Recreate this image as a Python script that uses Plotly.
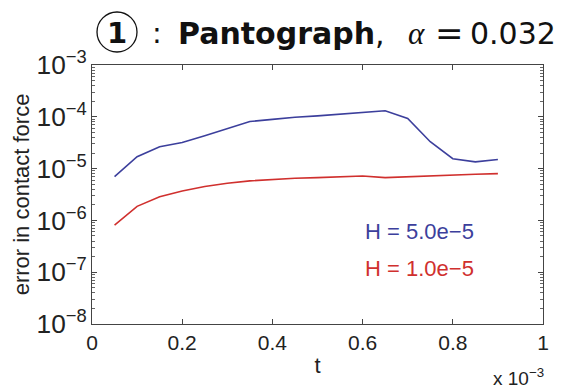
import plotly.graph_objects as go

t_vals = [0.05, 0.10, 0.15, 0.20, 0.25, 0.30, 0.35, 0.40, 0.45, 0.50, 0.55,
          0.60, 0.65, 0.70, 0.75, 0.80, 0.85, 0.90]
err_h5 = [7.0e-6, 1.7e-5, 2.65e-5, 3.2e-5, 4.3e-5, 6.0e-5, 8.1e-5, 8.9e-5, 9.8e-5,
          1.04e-4, 1.13e-4, 1.22e-4, 1.31e-4, 9.3e-5, 3.3e-5, 1.55e-5, 1.35e-5, 1.5e-5]
err_h1 = [8.1e-7, 1.87e-6, 2.85e-6, 3.7e-6, 4.5e-6, 5.2e-6, 5.8e-6, 6.2e-6, 6.5e-6,
          6.7e-6, 6.9e-6, 7.2e-6, 6.7e-6, 7.0e-6, 7.3e-6, 7.6e-6, 7.8e-6, 8.0e-6]
labels = ["H = 5.0e\u22125", "H = 1.0e\u22125"]
colors = ["#3c3f9c", "#d0302e"]
x_ticks = [0, 0.2, 0.4, 0.6, 0.8, 1]
x_ticklabels = ["0", "0.2", "0.4", "0.6", "0.8", "1"]

W, H = 567, 388
L, R, T, B = 92, 24, 65, 64
pw, ph = W - L - R, H - T - B

def px(x):
    return (x - L) / pw

def py(y):
    return (H - B - y) / ph

fig = go.Figure()
for ys, c in zip([err_h5, err_h1], colors):
    fig.add_trace(go.Scatter(x=t_vals, y=ys, mode="lines",
                             line=dict(color=c, width=1.6), showlegend=False))

font_main = "Liberation Sans, Arial, sans-serif"
fig.update_layout(
    width=W, height=H,
    margin=dict(l=L, r=R, t=T, b=B),
    paper_bgcolor="white", plot_bgcolor="white",
    font=dict(family=font_main, size=21, color="#222"),
    xaxis=dict(range=[0, 1], tickvals=x_ticks, ticktext=x_ticklabels,
               ticks="inside", ticklen=5, tickcolor="#444",
               showline=True, linecolor="#444", linewidth=1.2, mirror="ticks",
               showgrid=False, zeroline=False,
               title=dict(text="t", font=dict(size=22), standoff=4)),
    yaxis=dict(type="log", range=[-8, -3], dtick=1, exponentformat="power",
               showexponent="all",
               ticks="inside", ticklen=5, tickcolor="#444",
               minor=dict(ticks="inside", ticklen=3, tickcolor="#666", showgrid=False),
               showline=True, linecolor="#444", linewidth=1.2, mirror="ticks",
               showgrid=False, zeroline=False,
               title=dict(text="error in contact force", font=dict(size=22), standoff=0)),
)

# x 10^-3 multiplier
fig.add_annotation(x=px(546), y=py(377), xref="paper", yref="paper",
                   text="x 10<sup>\u22123</sup>", showarrow=False,
                   xanchor="right", yanchor="middle", font=dict(size=19))

# in-plot labels
for lbl, c, yy in zip(labels, colors, [231, 268]):
    fig.add_annotation(x=px(419), y=py(yy), xref="paper", yref="paper",
                       text=lbl, showarrow=False, xanchor="center", yanchor="middle",
                       font=dict(size=22, color=c))

# title pieces
tcol = "#111"
cx, cy, r = 117, 32, 20
fig.add_shape(type="circle", xref="paper", yref="paper",
              x0=px(cx - r), x1=px(cx + r), y0=py(cy + r), y1=py(cy - r),
              line=dict(color=tcol, width=1.3))
fig.add_annotation(x=px(cx), y=py(cy + 1), xref="paper", yref="paper",
                   text="<b>1</b>", showarrow=False, xanchor="center", yanchor="middle",
                   font=dict(size=29, color=tcol, family="DejaVu Sans"))
fig.add_annotation(x=px(157), y=py(33), xref="paper", yref="paper",
                   text=":", showarrow=False, xanchor="center", yanchor="middle",
                   font=dict(size=29, color=tcol, family="DejaVu Sans"))
fig.add_annotation(x=px(176), y=py(33), xref="paper", yref="paper",
                   text="<b>Pantograph</b>,", showarrow=False, xanchor="left", yanchor="middle",
                   font=dict(size=30, color=tcol, family="DejaVu Sans"))
fig.add_annotation(x=px(416), y=py(33), xref="paper", yref="paper",
                   text="<i>\u03b1</i>", showarrow=False, xanchor="center", yanchor="middle",
                   font=dict(size=31, color=tcol, family="Liberation Serif"))
fig.add_annotation(x=px(449), y=py(33), xref="paper", yref="paper",
                   text="=", showarrow=False, xanchor="center", yanchor="middle",
                   font=dict(size=34, color=tcol, family="DejaVu Sans"))
fig.add_annotation(x=px(558), y=py(33), xref="paper", yref="paper",
                   text="0.032", showarrow=False, xanchor="right", yanchor="middle",
                   font=dict(size=30, color=tcol, family="DejaVu Sans"))

fig.write_html("out.html")
